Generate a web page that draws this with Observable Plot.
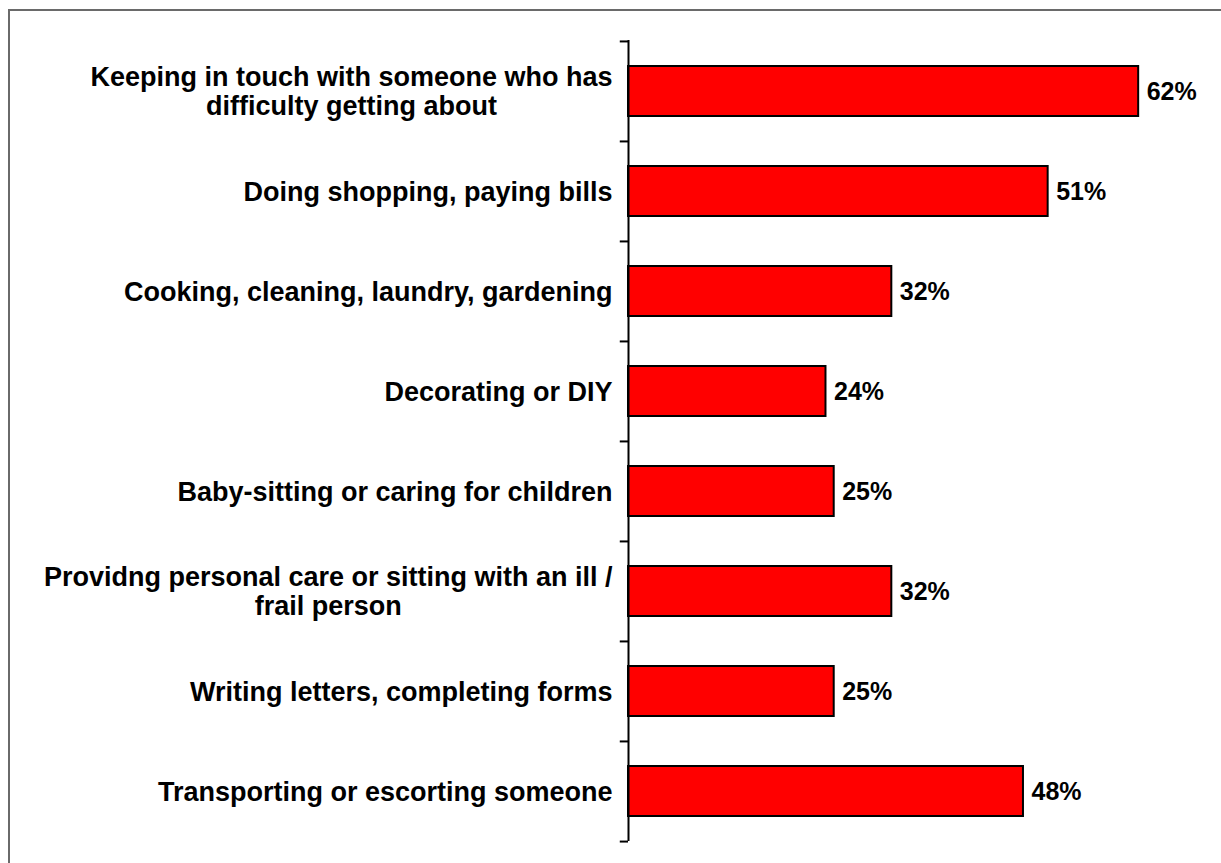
<!DOCTYPE html>
<html>
<head>
<meta charset="utf-8">
<script src="https://cdn.jsdelivr.net/npm/d3@7"></script>
<script src="https://cdn.jsdelivr.net/npm/@observablehq/plot@0.6"></script>
<style>
  html, body { margin: 0; padding: 0; background: #fff; }
  #wrap { position: relative; width: 1221px; height: 863px; overflow: hidden; }
  #frame { position: absolute; left: 8px; top: 9px; right: -10px; bottom: -10px;
           border-top: 2px solid #6a6a6a; border-left: 2px solid #6a6a6a; pointer-events: none; }
  svg { font-family: "Liberation Sans", Arial, sans-serif; }
</style>
</head>
<body>
<div id="wrap"><div id="frame"></div></div>
<script>
const categories = [
  "Keeping in touch with someone who has\ndifficulty getting about",
  "Doing shopping, paying bills",
  "Cooking, cleaning, laundry, gardening",
  "Decorating or DIY",
  "Baby-sitting or caring for children",
  "Providng personal care or sitting with an ill /\nfrail person",
  "Writing letters, completing forms",
  "Transporting or escorting someone"
];
const values = [62, 51, 32, 24, 25, 32, 25, 48];

const data = categories.map((c, i) => ({category: c, value: values[i]}));

const W = 1221, H = 863;
const marginLeft = 628, marginRight = 17, marginTop = 40, marginBottom = 22;
const xMax = 70;
const ppu = (W - marginLeft - marginRight) / xMax;

const labelSize = 27;
const labelFont = `bold ${labelSize}px 'Liberation Sans', Arial, sans-serif`;
const ctx = document.createElement("canvas").getContext("2d");
ctx.font = labelFont;
const blockW = c => d3.max(c.split("\n"), l => ctx.measureText(l).width);

const step = (H - marginTop - marginBottom) / categories.length;

const chart = Plot.plot({
  width: W,
  height: H,
  marginLeft, marginRight, marginTop, marginBottom,
  x: {domain: [0, xMax], axis: null},
  y: {domain: categories, axis: null, paddingInner: 0.5, paddingOuter: 0.25},
  marks: [
    Plot.barX(data, {x: "value", y: "category", fill: "#ff0000", stroke: "#000", strokeWidth: 2}),
    Plot.ruleX([0], {stroke: "#000", strokeWidth: 2}),
    Plot.ruleY(categories, {y: d => d, x1: -1, x2: 0, dy: -step / 2, stroke: "#000", strokeWidth: 2}),
    Plot.ruleY(categories.slice(-1), {y: d => d, x1: -1, x2: 0, dy: step / 2, stroke: "#000", strokeWidth: 2}),
    Plot.text(categories, {
      y: d => d,
      x: d => -blockW(d) / 2 / ppu,
      dx: -16,
      text: d => d,
      textAnchor: "middle",
      lineAnchor: "middle",
      lineHeight: 1.04,
      fontSize: labelSize,
      fontWeight: "bold",
      fill: "#000"
    }),
    Plot.text(data, {
      x: "value", y: "category",
      text: d => d.value + "%",
      textAnchor: "start",
      dx: 8,
      fontSize: 25,
      fontWeight: "bold",
      fill: "#000"
    })
  ]
});
document.getElementById("wrap").prepend(chart);
</script>
</body>
</html>
